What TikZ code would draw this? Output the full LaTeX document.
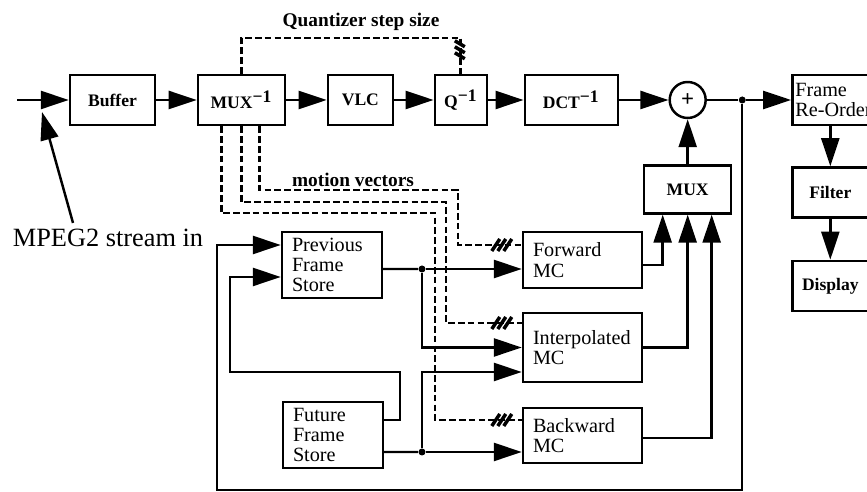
\documentclass[tikz,border=0pt]{standalone}
\usepackage{fontspec}
\setmainfont{Liberation Serif}
\usetikzlibrary{positioning, arrows.meta}

\begin{document}
\begin{tikzpicture}[x=0.02cm, y=-0.02cm, node distance=0.81cm,
    box/.style={draw, line width=1.4pt, minimum height=1cm, inner sep=2pt, font=\fontsize{10}{12}\selectfont\bfseries},
    store/.style={draw, line width=1.4pt, align=left, text width=#1, inner xsep=0.2cm, inner ysep=2pt, font=\fontsize{11.5}{11.6}\selectfont},
    lbl/.style={inner sep=1pt, font=\fontsize{11}{13}\selectfont\bfseries},
    arr/.style={-{Triangle[length=0.56cm, width=0.36cm]}, line width=1.4pt},
    wire/.style={line width=1.4pt},
    ctl/.style={line width=1.6pt, dash pattern=on 3.8pt off 1.8pt},
    dot/.style={circle, fill, inner sep=0pt, minimum size=0.14cm},
    slashes/.pic={\draw[line width=2pt] (-10,6) -- (-2,-6) (-4,6) -- (4,-6) (2,6) -- (10,-6);},
    vslashes/.pic={\draw[line width=2pt] (-6,-10) -- (4,-4) (-6,-4) -- (4,2) (-6,2) -- (4,8);}]
    \useasboundingbox (0,0) rectangle (867,492);

    % Decoder chain
    \coordinate (in) at (17,100);
    \node (buffer) [box, minimum width=1.7cm] at (112.5,100) {Buffer};
    \node (demux) [box, minimum width=1.74cm, right=of buffer] {MUX\textsuperscript{\fontsize{10}{10}\selectfont −1}};
    \node (vlc) [box, minimum width=1.3cm, right=of demux] {VLC};
    \node (iq) [box, minimum width=1.04cm, right=0.79cm of vlc] {Q\textsuperscript{\fontsize{10}{10}\selectfont −1}};
    \node (idct) [box, minimum width=1.86cm, right=0.71cm of iq] {DCT\textsuperscript{\fontsize{10}{10}\selectfont −1}};
    \node (sum) [circle, draw, line width=1.4pt, minimum size=0.72cm, inner sep=0pt, font=\fontsize{13}{13}\selectfont\bfseries, right=0.99cm of idct] {+};
    \node (split) [dot, right=0.63cm of sum] {};
    \node (reorder) [store=1.7cm, inner xsep=0.06cm, minimum height=1cm, right=0.9cm of split] {Frame\\Re-Order};
    \node (filter) [box, minimum width=1.52cm, below=0.8cm of reorder.south west, anchor=north west] {Filter};
    \node (display) [box, minimum width=1.52cm, below=0.82cm of filter] {Display};
    \node (mux) [box, minimum width=1.74cm, minimum height=0.96cm, below=0.9cm of sum] {MUX};

    % Frame stores and MC
    \node (prev) [store=1.6cm, minimum height=1.32cm] at (332,265) {Previous\\Frame\\Store};
    \node (fut) [store=1.6cm, minimum height=1.32cm] at (333,435) {Future\\Frame\\Store};
    \node (fwd) [store=1.98cm, minimum height=1.12cm] at (582.5,260) {Forward\\MC};
    \node (ipol) [store=1.98cm, minimum height=1.38cm] at (582.5,347.5) {Interpolated\\MC};
    \node (bwd) [store=1.98cm, minimum height=1.1cm] at (582.5,435.5) {Backward\\MC};
    \node (jp) [dot] at (422,269) {};
    \node (jf) [dot] at (422,452) {};

    % Labels
    \node (stream) [font=\fontsize{15}{18}\selectfont] at (108,238) {MPEG2 stream in};
    \node (qlabel) [lbl] at (361,22) {Quantizer step size};
    \node (mvlabel) [lbl] at (353,180) {motion vectors};
    \coordinate (inpt) at (42,112);
    \coordinate (loop) at (217,490);
    \coordinate (back) at (230,372);
    \coordinate (qrail) at (0,38);
    \coordinate (mv1) at (458,190);
    \coordinate (mv2) at (446,202);
    \coordinate (mv3) at (435,213);

    % Main path
    \draw[arr] (in) -- (buffer);
    \draw[arr] (buffer) -- (demux);
    \draw[arr] (demux) -- (vlc);
    \draw[arr] (vlc) -- (iq);
    \draw[arr] (iq) -- (idct);
    \draw[arr] (idct) -- (sum);
    \draw[wire] (sum) -- (split);
    \draw[arr] (split) -- (reorder.west |- split);
    \draw[arr] (filter.north |- reorder.south) -- (filter);
    \draw[arr] (filter) -- (display);
    \draw[arr] ([xshift=-0.7cm]stream.north) -- (inpt);

    % Prediction
    \draw[arr] (mux) -- (sum);
    \draw[arr] ([yshift=-0.1cm]fwd.east) -| ([xshift=-0.5cm]mux.south);
    \draw[arr] (ipol.east) -| (mux.south);
    \draw[arr] ([yshift=-0.05cm]bwd.east) -| ([xshift=0.48cm]mux.south);
    \draw[arr] (split) |- (loop) |- ([yshift=0.4cm]prev.west);
    \draw[arr] ([yshift=0.3cm]fut.east) -- ++(16,0) |- (back) |- ([yshift=-0.24cm]prev.west);
    \draw[wire] ([yshift=-0.08cm]prev.east) -- (jp);
    \draw[arr] (jp) -- (jp -| fwd.west);
    \draw[arr] (jp) |- (ipol.west);
    \draw[wire] ([yshift=-0.34cm]fut.east) -- (jf);
    \draw[arr] (jf) -- (jf -| bwd.west);
    \draw[arr] (jf) |- ([yshift=-0.49cm]ipol.west);

    % Side information
    \draw[ctl] (demux.north) |- (iq.north |- qrail) -- (iq.north);
    \pic at ([yshift=0.46cm]iq.north) {vslashes};
    \draw[ctl] ([xshift=0.36cm]demux.south) |- (mv1) |- ([yshift=0.3cm]fwd.west);
    \draw[ctl] (demux.south) |- (mv2) |- ([yshift=0.49cm]ipol.west);
    \draw[ctl] ([xshift=-0.4cm]demux.south) |- (mv3) |- ([yshift=0.31cm]bwd.west);
    \pic at ([xshift=-0.4cm, yshift=0.3cm]fwd.west) {slashes};
    \pic at ([xshift=-0.4cm, yshift=0.49cm]ipol.west) {slashes};
    \pic at ([xshift=-0.4cm, yshift=0.31cm]bwd.west) {slashes};
\end{tikzpicture}
\end{document}
